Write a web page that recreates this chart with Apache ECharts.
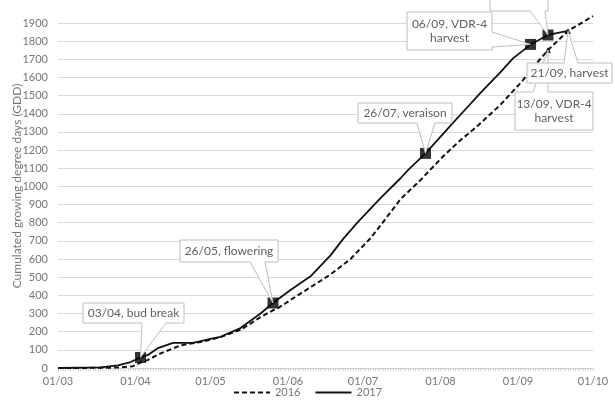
<!DOCTYPE html>
<html>
<head>
<meta charset="utf-8">
<script src="https://cdn.jsdelivr.net/npm/echarts@6/dist/echarts.min.js"></script>
<style>html,body{margin:0;padding:0;background:#fff}#c{width:615px;height:405px}</style>
</head>
<body>
<div id="c"></div>
<script>
// Day offsets counted from 01/03 (day 0)
const monthStartDays = [0, 31, 61, 92, 122, 153, 184, 214];
const monthLabels = ['01/03', '01/04', '01/05', '01/06', '01/07', '01/08', '01/09', '01/10'];

const days2017 = [0, 10, 17, 24, 29, 33, 36, 40, 46, 54, 61, 65, 73, 81, 86, 93, 101, 109, 114, 120, 129, 137, 140, 147, 157, 163, 169, 177, 182, 188, 189, 196, 204];
const gdd2017  = [0, 2, 3, 15, 33, 58, 72, 110, 138, 138, 160, 172, 220, 300, 358, 430, 505, 620, 710, 805, 935, 1045, 1090, 1182, 1335, 1425, 1515, 1630, 1705, 1770, 1782, 1834, 1856];

const days2016 = [0, 17, 25, 30, 33, 36, 41, 49, 57, 65, 73, 81, 86, 88, 97, 109, 117, 125, 129, 137, 145, 154, 161, 168, 177, 186, 190, 196, 204, 214];
const gdd2016  = [0, 1, 3, 10, 30, 45, 80, 125, 143, 170, 210, 280, 318, 330, 410, 515, 600, 715, 785, 930, 1035, 1165, 1255, 1335, 1450, 1585, 1655, 1751, 1856, 1938];

// Phenological events
const events2017Days = [33, 86, 147, 189, 196];
const events2017Gdd  = [58, 358, 1182, 1782, 1834];
const events2016Days = [196, 204];
const events2016Gdd  = [1751, 1856];

const yTicks = { min: 0, max: 1900, interval: 100 };

const allDays = [];
for (let d = 0; d <= 214; d++) allDays.push(d);

const zip = (a, b) => a.map((v, i) => [v, b[i]]);

const chart = echarts.init(document.getElementById('c'));
const FONT = 'Lato, "Open Sans", sans-serif';
chart.setOption({
  animation: false,
  grid: { left: 58, right: 22, top: 23, bottom: 37, containLabel: false },
  legend: {
    data: ['2016', '2017'],
    bottom: 2, left: 'center',
    itemWidth: 36, itemHeight: 10, itemGap: 14,
    itemStyle: { opacity: 0 },
    textStyle: { color: '#767676', fontSize: 11, fontFamily: FONT }
  },
  xAxis: {
    type: 'value', min: 0, max: 214,
    axisLine: { show: true, lineStyle: { color: '#d0d0d0', width: 1 } },
    axisTick: { show: true, customValues: allDays, length: 3, lineStyle: { color: '#d0d0d0' } },
    axisLabel: {
      customValues: monthStartDays,
      formatter: v => monthLabels[monthStartDays.indexOf(v)] || '',
      color: '#767676', fontSize: 11, fontFamily: FONT, margin: 8
    },
    splitLine: { show: false }
  },
  yAxis: {
    type: 'value', min: yTicks.min, max: yTicks.max, interval: yTicks.interval,
    axisLine: { show: false }, axisTick: { show: false },
    axisLabel: { color: '#767676', fontSize: 11, fontFamily: FONT, margin: 10, formatter: v => String(v) },
    splitLine: { lineStyle: { color: '#d9d9d9', width: 1 } }
  },
  series: [
    {
      name: '2016', type: 'line', data: zip(days2016, gdd2016), symbol: 'none', clip: false,
      lineStyle: { color: '#111', width: 2, type: [5, 3] }, itemStyle: { color: '#111' }, z: 3
    },
    {
      name: '2017', type: 'line', data: zip(days2017, gdd2017), symbol: 'none', clip: false,
      lineStyle: { color: '#111', width: 1.8 }, itemStyle: { color: '#111' }, z: 4
    },
    {
      name: 'ev2017', type: 'scatter', data: zip(events2017Days, events2017Gdd),
      symbol: 'rect', symbolSize: 11, itemStyle: { color: '#000' }, z: 5, silent: true
    },
    {
      name: 'ev2016', type: 'scatter', data: zip(events2016Days, events2016Gdd),
      symbol: 'triangle', symbolSize: 6, itemStyle: { color: '#000' }, z: 5, silent: true
    }
  ]
});

// Callouts (box layout in pixels, tip from data through the chart's scales)
function tipOf(d, g) { return chart.convertToPixel({ gridIndex: 0 }, [d, g]); }
function calloutShape(b, side, b1, b2, tip) {
  const x = b.x, y = b.y, w = b.w, h = b.h;
  if (side === 'bottom') return [[x, y], [x + w, y], [x + w, y + h], [b2, y + h], tip, [b1, y + h], [x, y + h]];
  if (side === 'top') return [[x, y], [b1, y], tip, [b2, y], [x + w, y], [x + w, y + h], [x, y + h]];
  if (side === 'right') return [[x, y], [x + w, y], [x + w, b1], tip, [x + w, b2], [x + w, y + h], [x, y + h]];
  return [];
}
const callouts = [
  { text: '03/04, bud break', box: { x: 83, y: 303, w: 101, h: 20 }, side: 'bottom', b1: 142, b2: 166, tip: tipOf(events2017Days[0], events2017Gdd[0]) },
  { text: '26/05, flowering', box: { x: 180, y: 240, w: 98, h: 22 }, side: 'bottom', b1: 250, b2: 265, tip: tipOf(events2017Days[1], events2017Gdd[1]) },
  { text: '26/07, veraison', box: { x: 358, y: 103, w: 94, h: 20 }, side: 'bottom', b1: 417, b2: 435, tip: tipOf(events2017Days[2], events2017Gdd[2]) },
  { text: '06/09, VDR-4\nharvest', box: { x: 407, y: 12, w: 85, h: 38 }, side: 'right', b1: 32, b2: 47, tip: tipOf(events2017Days[3], events2017Gdd[3]) },
  { text: '13/09, harvest', box: { x: 490, y: -40, w: 58, h: 51 }, side: 'bottom', b1: 530, b2: 545, tip: tipOf(events2017Days[4], events2017Gdd[4]) },
  { text: '13/09, VDR-4\nharvest', box: { x: 515, y: 92, w: 78, h: 38 }, side: 'top', b1: 533, b2: 548, tip: tipOf(events2016Days[0], events2016Gdd[0]) },
  { text: '21/09, harvest', box: { x: 527, y: 63, w: 85, h: 20 }, side: 'top', b1: 564, b2: 578, tip: tipOf(events2016Days[1], events2016Gdd[1]) }
];
const elements = [];
callouts.forEach((c, i) => {
  elements.push({
    type: 'polygon', z: 100 + i * 2, silent: true,
    shape: { points: calloutShape(c.box, c.side, c.b1, c.b2, c.tip) },
    style: { fill: '#fff', stroke: '#bdbdbd', lineWidth: 1 }
  });
  elements.push({
    type: 'text', z: 101 + i * 2, silent: true,
    style: {
      text: c.text, x: c.box.x + c.box.w / 2, y: c.box.y + c.box.h / 2 - (c.box.y < 0 ? 12 : 0),
      align: 'center', verticalAlign: 'middle', lineHeight: 14,
      font: '12px ' + FONT, fill: '#5f5f5f'
    }
  });
});
elements.push({
  type: 'text', z: 100, silent: true, x: 17, y: 186, rotation: Math.PI / 2,
  style: { text: 'Cumulated growing degree days (GDD)', x: 0, y: 0, align: 'center', verticalAlign: 'middle', font: '12px ' + FONT, fill: '#767676' }
});
chart.setOption({ graphic: { elements } });
</script>
</body>
</html>
